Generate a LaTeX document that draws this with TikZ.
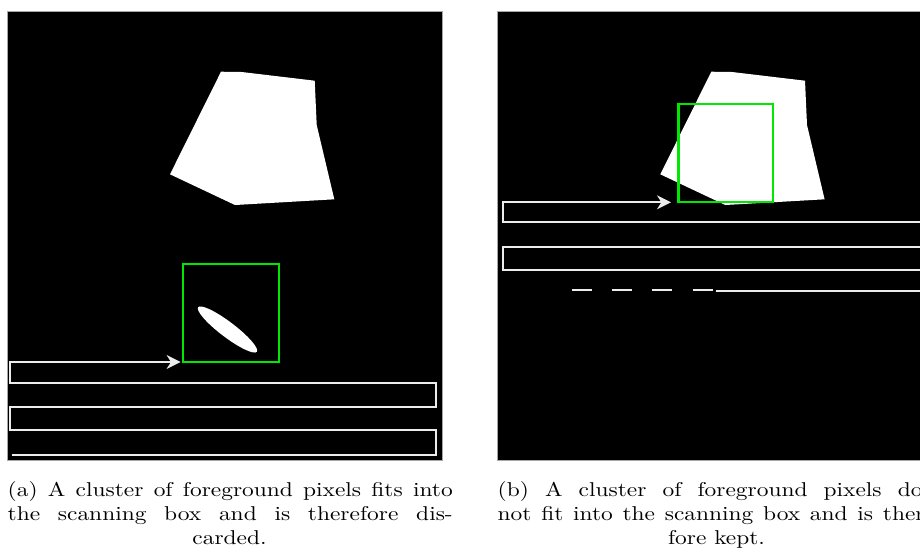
\documentclass[tikz,border=0pt]{standalone}
\usepackage{graphicx}
\usetikzlibrary{arrows.meta}
\definecolor{boxgreen}{RGB}{0,232,0}
\definecolor{trailgray}{RGB}{236,236,236}
\newcommand{\capjust}[1]{\scalebox{1.17}[1]{\makebox[190.2pt][s]{#1}}}
\newcommand{\capplain}[1]{\scalebox{1.17}[1]{#1}}
\begin{document}
\begin{tikzpicture}[x=0.5pt,y=-0.5pt,
  scanbox/.style={draw=boxgreen,line width=1.1pt,inner sep=0pt,outer sep=0pt,
                  minimum width=48pt,minimum height=49pt},
  trail/.style={draw=trailgray,line width=1pt},
  scanarrow/.style={trail,-{Stealth[length=7pt,width=7pt,inset=2.2pt]}},
  capline/.style={anchor=base west,inner sep=0pt},
  caplast/.style={anchor=base,inner sep=0pt},
  cluster/.pic={
    \fill[white] (221,71.7) -- (241.7,72) -- (314.7,80.7) -- (316.7,125)
      -- (334.3,199.3) -- (235,205) -- (170,174.3) -- cycle;
  }
]
\useasboundingbox (0,0) rectangle (920,559);
\fill[white] (0,0) rectangle (920,559);
\begin{scope}
\clip (0,0) rectangle (920,559);

% ---------- left panel: small cluster inside the scanning box ----------
\fill[black] (7,11) rectangle (442,460);
\draw[gray!70,line width=0.5pt] (7,11) rectangle (442,460);
\pic at (0,0) {cluster};
\fill[white, rotate around={-37.2:(227.5,329.5)}]
  (227.5,329.5) ellipse [x radius=18.4pt, y radius=3.8pt];
\node[scanbox] (bxA) at (231,313) {};
\coordinate (startA) at (11.7,455);
\coordinate (turnA) at (10.3,362);
\draw[scanarrow] (startA) -- (435.7,455) -- (435.7,430) -- (10.3,430)
  -- (10.3,406.7) -- (435.7,406.7) -- (435.7,383) -- (10.3,383)
  -- (turnA) -- ([xshift=-1.2pt]bxA.south west);

% ---------- right panel: large cluster overflowing the scanning box ----------
\fill[black] (497.3,11) rectangle (935,460);
\draw[gray!70,line width=0.5pt] (497.3,11) rectangle (935,460);
\pic at (490.3,0) {cluster};
\node[scanbox, minimum width=47.3pt] (bxB) at (725.7,153.3) {};
\coordinate (startB) at (930,269.7);
\coordinate (turnB) at (502.7,202.3);
\draw[scanarrow] (startB) -- (502.7,269.7) -- (502.7,247) -- (930,247)
  -- (930,222.3) -- (502.7,222.3) -- (turnB)
  -- ([xshift=-3.7pt]bxB.south west);
\coordinate (dashA) at (571.7,290.3);
\coordinate (dashB) at (712.7,290.3);
\coordinate (solidA) at (716,290.6);
\coordinate (solidB) at (935,290.6);
\draw[trail, dash pattern=on 10pt off 10.15pt] (dashA) -- (dashB);
\draw[trail] (solidA) -- (solidB);

% ---------- captions ----------
\node[capline] (ca1) at (7.3,496.7)
  {\capjust{(a) A cluster of foreground pixels fits into}};
\node[capline] (ca2) at (7.3,520.7)
  {\capjust{the scanning box and is therefore dis-}};
\node[caplast] (ca3) at (229.5,544) {\capplain{carded.}};

\node[capline] (cb1) at (497.3,496.7)
  {\capjust{(b) A cluster of foreground pixels does}};
\node[capline] (cb2) at (497.3,520.7)
  {\capjust{not fit into the scanning box and is there-}};
\node[caplast] (cb3) at (716.5,544) {\capplain{fore kept.}};
\end{scope}
\end{tikzpicture}
\end{document}
